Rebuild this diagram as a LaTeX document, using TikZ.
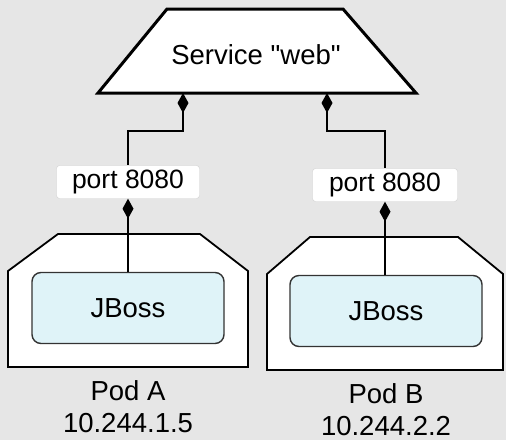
\documentclass[tikz,border=0pt]{standalone}
\usepackage{fontspec}
\setmainfont{Liberation Sans}[Ligatures=TeXOff]
\usepackage{xcolor}
\usepackage{tikz}
\usetikzlibrary{arrows.meta, positioning}
\definecolor{bggray}{HTML}{E6E6E6}
\definecolor{jbossfill}{HTML}{DFF3F8}
\definecolor{jbossline}{HTML}{333333}
\definecolor{portline}{HTML}{D0D0D0}
\tikzset{
  label/.style={font=\fontsize{27.5}{32}\selectfont, align=center, inner sep=0pt},
  port/.style={rectangle, draw=portline, fill=white, rounded corners=3pt,
               minimum width=143pt, minimum height=33pt, inner sep=0pt,
               font=\fontsize{26.5}{30}\selectfont},
  jboss/.style={rectangle, draw=jbossline, fill=jbossfill, line width=1.4pt,
                rounded corners=9pt, minimum width=192pt, minimum height=71pt,
                inner sep=0pt, font=\fontsize{27.5}{30}\selectfont},
  pod/.style={draw=black, fill=white, line width=1.8pt, line join=miter},
  link/.style={{Diamond[length=20pt, width=11pt]}-, line width=2pt},
}

\begin{document}
\begin{tikzpicture}[x=1pt, y=-1pt, node distance=14pt]
  \fill[bggray] (0,0) rectangle (506,440);
  \useasboundingbox (0,0) rectangle (506,440);

  % Service
  \draw[fill=white, line width=3pt, line join=miter]
    (98,93) -- (167,9) -- (343,9) -- (416,93) -- cycle;
  \node[label] (svc) at (256,55) {Service "web"};
  \coordinate (svcA) at (183,93);
  \coordinate (svcB) at (327,93);

  % Pods
  \draw[pod] (8,367) -- (8,271) -- (58,234) -- (200,234) -- (248,271) -- (248,367) -- cycle;
  \draw[pod] (267,370) -- (267,274) -- (310,237) -- (458,237) -- (503,274) -- (503,370) -- cycle;
  \coordinate (podA) at (128,367);
  \coordinate (podB) at (386,370);

  % Containers
  \node[jboss] (jbA) at (128,308) {JBoss};
  \node[jboss] (jbB) at (386,311) {JBoss};

  % Ports
  \node[port] (portA) at (128,182) {port 8080};
  \node[port, minimum width=145pt] (portB) at (385,185) {port 8080};

  % Pod labels
  \node[label, below=13pt of podA] (nameA) {Pod A\\10.244.1.5};
  \node[label, below=13pt of podB] (nameB) {Pod B\\10.244.2.2};

  % Links service -> ports
  \draw[link] (svcA) -- ++(0,38) -| (portA.north);
  \draw[link] (svcB) -- ++(0,38) -| (portB.north);

  % Links ports -> containers
  \draw[link] (portA.south) -- (jbA.north);
  \draw[link] (portB.south) -- (jbB.north -| portB.south);
\end{tikzpicture}
\end{document}
